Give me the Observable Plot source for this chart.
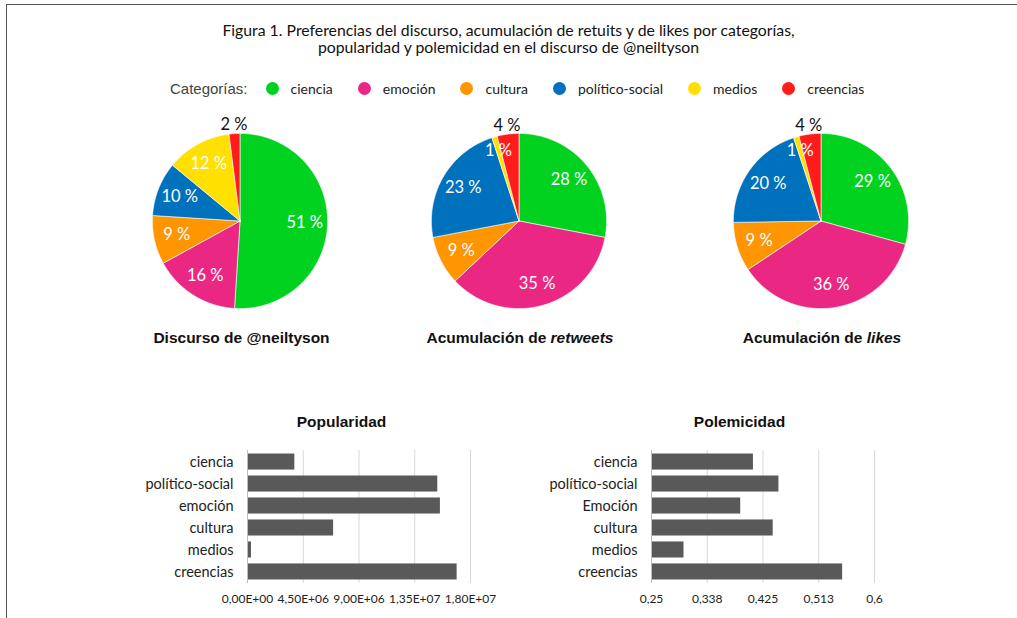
<!DOCTYPE html>
<html><head><meta charset="utf-8">
<script src="https://cdn.jsdelivr.net/npm/d3@7"></script>
<script src="https://cdn.jsdelivr.net/npm/@observablehq/plot@0.6"></script>
<style>
body{margin:0;background:#fff;}
#page{position:relative;width:1017px;height:618px;background:#fff;overflow:hidden;font-family:Lato,sans-serif;}
.abs{position:absolute;}
#frame{left:6px;top:4px;width:1011px;height:614px;border-top:1px solid #555;border-left:1px solid #555;box-sizing:border-box;}
#title{left:0;top:21px;width:1017px;text-align:center;font-family:Lato,sans-serif;font-size:15.8px;line-height:17px;color:#111;}
#legend{left:170px;top:78px;display:flex;align-items:center;height:20px;}
#legend .lab0{font-family:"Liberation Sans",Arial,sans-serif;font-size:15px;color:#444;margin-right:18px;}
#legend .item{display:flex;align-items:center;margin-right:25px;font-size:14px;color:#222;}
#legend .dot{width:13px;height:13px;border-radius:50%;margin-right:12px;}
.ptitle{font-family:"Liberation Sans",Arial,sans-serif;font-weight:bold;font-size:15.5px;color:#111;text-align:center;width:300px;}
</style></head><body><div id="page">
<div id="frame" class="abs"></div>
<div id="title" class="abs">Figura 1. Preferencias del discurso, acumulación de retuits y de likes por categorías,<br>popularidad y polemicidad en el discurso de @neiltyson</div>
<div id="legend" class="abs"></div>
</div>
<script>
const categories = ["ciencia","emoción","cultura","político-social","medios","creencias"];
const catColors = ["#00d21f","#ea2783","#ff9500","#0071bc","#ffe000","#ff1c1c"];
const discursoPct = [51,16,9,10,12,2];
const retweetsPct = [28,35,9,23,1,4];
const likesPct = [29,36,9,20,1,4];

const popCategories = ["ciencia","político-social","emoción","cultura","medios","creencias"];
const popularidad = [3.82e6,1.536e7,1.557e7,6.95e6,3.2e5,1.692e7];
const popTicks = [0,4.5e6,9e6,1.35e7,1.8e7];
const popTickLabels = ["0,00E+00","4,50E+06","9,00E+06","1,35E+07","1,80E+07"];

const polCategories = ["ciencia","político-social","Emoción","cultura","medios","creencias"];
const polemicidad = [0.410,0.450,0.390,0.441,0.301,0.550];
const polTicks = [0.25,0.3375,0.425,0.5125,0.6];
const polTickLabels = ["0,25","0,338","0,425","0,513","0,6"];

const page = document.getElementById("page");

// legend
const legend = document.getElementById("legend");
legend.innerHTML = '<span class="lab0">Categorías:</span>' +
  categories.map((c,i)=>`<span class="item"><span class="dot" style="background:${catColors[i]}"></span>${c}</span>`).join("");

function place(el, left, top){ el.style.position="absolute"; el.style.left=left+"px"; el.style.top=top+"px"; page.appendChild(el); }

function addText(html, cx, top, cls){ const d=document.createElement("div"); d.className=cls; d.innerHTML=html; place(d, cx-150, top); }

const R = 87.5, S = 1.25, W = Math.round(2*S*R);
function pie(values, cx, cy){
  const data = categories.map((c,i)=>({cat:c, v:values[i], color:catColors[i]}));
  const arcs = d3.pie().sort(null).value(d=>d.v)(data);
  const marks = [];
  arcs.forEach(a=>{
    const pts=[{x:0,y:0}];
    const n=Math.max(2,Math.ceil((a.endAngle-a.startAngle)/0.01));
    for(let k=0;k<=n;k++){const t=a.startAngle+(a.endAngle-a.startAngle)*k/n; pts.push({x:Math.sin(t),y:Math.cos(t)});}
    pts.push({x:0,y:0});
    marks.push(Plot.line(pts,{x:"x",y:"y",fill:a.data.color,stroke:"white",strokeWidth:0.6,strokeLinejoin:"round"}));
  });
  const labels = arcs.map(a=>{const m=(a.startAngle+a.endAngle)/2; const outside=a.data.cat==="creencias"; const r=outside?1.1:(a.data.v<3?0.84:0.74); return {x:Math.sin(m)*r,y:Math.cos(m)*r,t:a.data.v+" %",outside};});
  marks.push(Plot.text(labels.filter(d=>!d.outside),{x:"x",y:"y",text:"t",fill:"white",fontSize:16.5}));
  marks.push(Plot.text(labels.filter(d=>d.outside),{x:"x",y:"y",text:"t",fill:"#111",fontSize:16.5}));
  const svg = Plot.plot({width:W,height:W,margin:0,x:{domain:[-S,S],axis:null},y:{domain:[-S,S],axis:null},
    style:{fontFamily:"Lato",background:"transparent",overflow:"visible"},marks});
  place(svg, cx-W/2, cy-W/2);
}
pie(discursoPct,239,220);
pie(retweetsPct,518,220);
pie(likesPct,820,220);

addText("Discurso de @neiltyson",241.5,329,"ptitle");
addText("Acumulación de <i>retweets</i>",520,329,"ptitle");
addText("Acumulación de <i>likes</i>",822,329,"ptitle");
addText("Popularidad",341.5,413,"ptitle");
addText("Polemicidad",739.5,413,"ptitle");

function bars(cats, vals, domain, ticks, tickLabels, left, mL){
  const data = cats.map((c,i)=>({cat:c,v:vals[i]}));
  const pw = 223, mR = 34;
  const svg = Plot.plot({
    width:mL+pw+mR,height:173,marginLeft:mL,marginRight:mR,marginTop:10,marginBottom:30,
    x:{domain,label:null},
    y:{domain:cats,paddingInner:0.27,paddingOuter:0.16,round:false,label:null},
    style:{fontFamily:"Lato",fontSize:"14px",color:"#222",background:"transparent",overflow:"visible"},
    marks:[
      Plot.gridX(ticks,{stroke:"#d9d9d9",strokeOpacity:1}),
      Plot.barX(data,{x1:domain[0],x2:"v",y:"cat",fill:"#595959"}),
      Plot.ruleX([domain[0]],{stroke:"#bdbdbd"}),
      Plot.axisX({ticks,tickFormat:d=>tickLabels[ticks.indexOf(d)],tickSize:0,tickPadding:11,fontSize:12,label:null}),
      Plot.axisY({tickSize:0,tickPadding:14,fontSize:14.5,label:null})
    ]
  });
  place(svg,left,440);
}
bars(popCategories,popularidad,[0,1.8e7],popTicks,popTickLabels,130,117);
bars(polCategories,polemicidad,[0.25,0.6],polTicks,polTickLabels,540,111);
</script>
</body></html>
